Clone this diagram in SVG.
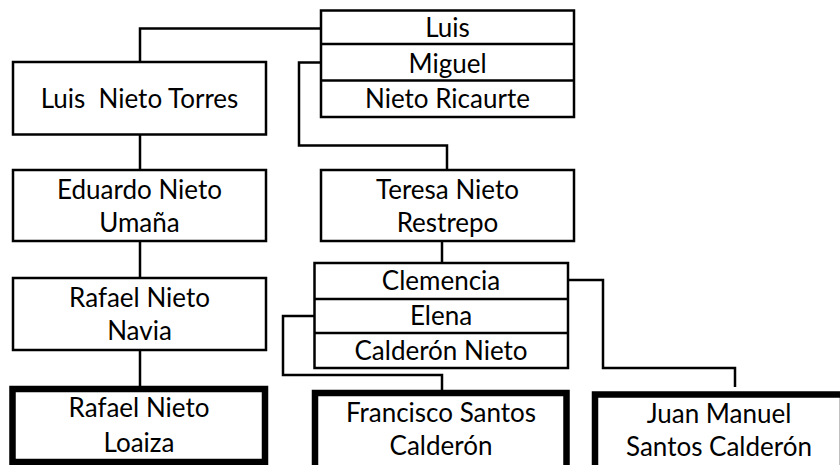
<svg xmlns="http://www.w3.org/2000/svg" width="840" height="465" viewBox="0 0 840 465">
  <style>
    .box { fill: #ffffff; stroke: #000000; stroke-width: 2.5; }
    .thick { fill: #ffffff; stroke: #000000; stroke-width: 6.5; }
    .div { stroke: #000000; stroke-width: 2.5; fill: none; }
    .conn { stroke: #000000; stroke-width: 2.5; fill: none; stroke-linejoin: miter; }
    text { font-family: Lato, "Open Sans", "Liberation Sans", sans-serif; font-size: 26px; fill: #000000; text-anchor: middle; }
  </style>
  <rect width="840" height="465" fill="#ffffff"/>

  <g id="connectors">
    <polyline class="conn" points="140,62 140,28.5 321,28.5"/>
    <polyline class="conn" points="140,134.5 140,170"/>
    <polyline class="conn" points="140,241 140,278"/>
    <polyline class="conn" points="140,350 140,389"/>
    <polyline class="conn" points="321,62.5 299,62.5 299,145.5 447,145.5 447,170"/>
    <polyline class="conn" points="442,241 442,263"/>
    <polyline class="conn" points="314.5,316 283,316 283,375 442,375 442,393"/>
    <polyline class="conn" points="568,280 603,280 603,368 735,368 735,387"/>
  </g>

  <g id="luis-miguel-nieto-ricaurte">
    <rect class="box" x="321" y="10.5" width="253" height="106.5"/>
    <line class="div" x1="321" y1="44" x2="574" y2="44"/>
    <line class="div" x1="321" y1="80.5" x2="574" y2="80.5"/>
    <text x="447.5" y="37">Luis</text>
    <text x="447.5" y="73">Miguel</text>
    <text x="447.5" y="108">Nieto Ricaurte</text>
  </g>

  <g id="luis-nieto-torres">
    <rect class="box" x="13" y="62" width="253" height="72.5"/>
    <text x="139.5" y="108" xml:space="preserve">Luis  Nieto Torres</text>
  </g>

  <g id="eduardo-nieto-umana">
    <rect class="box" x="13" y="170" width="253" height="71"/>
    <text x="139.5" y="199">Eduardo Nieto</text>
    <text x="139.5" y="232">Umaña</text>
  </g>

  <g id="rafael-nieto-navia">
    <rect class="box" x="13" y="278" width="253" height="72"/>
    <text x="139.5" y="307">Rafael Nieto</text>
    <text x="139.5" y="340">Navia</text>
  </g>

  <g id="rafael-nieto-loaiza">
    <rect class="thick" x="12.5" y="389" width="252.5" height="73"/>
    <text x="139" y="417">Rafael Nieto</text>
    <text x="139" y="452">Loaiza</text>
  </g>

  <g id="teresa-nieto-restrepo">
    <rect class="box" x="321" y="170" width="253" height="71"/>
    <text x="447.5" y="199">Teresa Nieto</text>
    <text x="447.5" y="232">Restrepo</text>
  </g>

  <g id="clemencia-elena-calderon-nieto">
    <rect class="box" x="314.5" y="263" width="253.5" height="105"/>
    <line class="div" x1="314.5" y1="299" x2="568" y2="299"/>
    <line class="div" x1="314.5" y1="333" x2="568" y2="333"/>
    <text x="441" y="290">Clemencia</text>
    <text x="441" y="325">Elena</text>
    <text x="441" y="360">Calderón Nieto</text>
  </g>

  <g id="francisco-santos-calderon">
    <rect class="thick" x="315" y="393" width="251.5" height="80"/>
    <text x="441" y="422">Francisco Santos</text>
    <text x="441" y="455">Calderón</text>
  </g>

  <g id="juan-manuel-santos-calderon">
    <rect class="thick" x="595" y="394.5" width="248" height="80"/>
    <text x="719" y="423">Juan Manuel</text>
    <text x="719" y="456">Santos Calderón</text>
  </g>
</svg>
